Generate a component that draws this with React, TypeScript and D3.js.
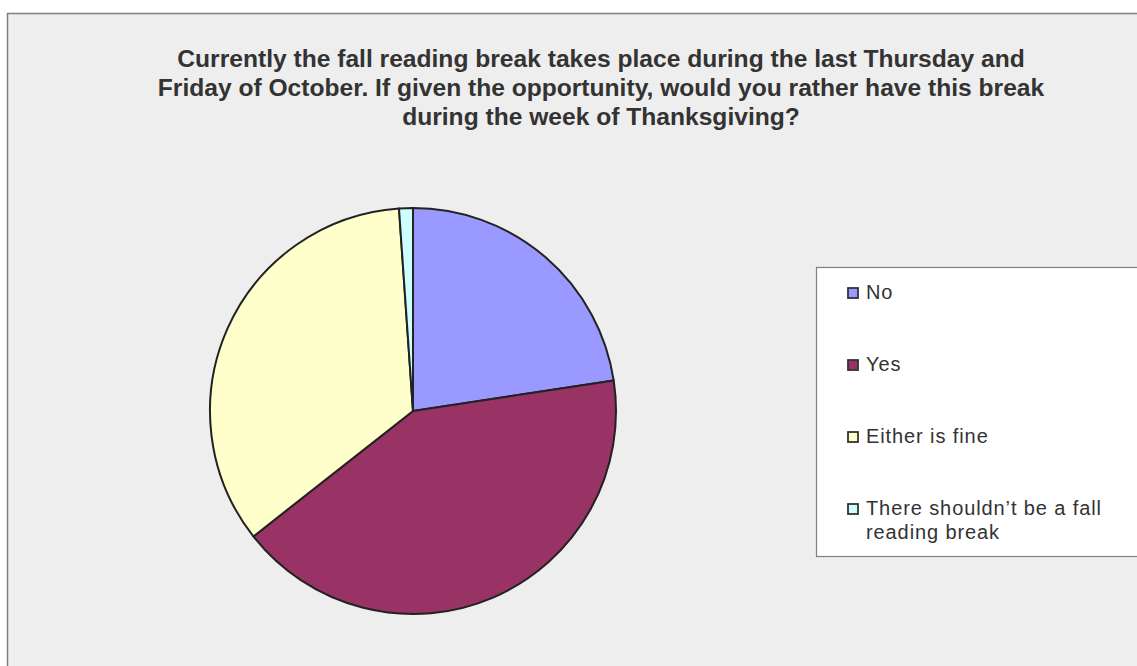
import React from "react";
import * as d3 from "d3";

const categories = ["No", "Yes", "Either is fine", "There shouldn\u2019t be a fall reading break"];
const values = [22.6, 41.8, 34.5, 1.1];
const colors = ["#9999FF", "#993366", "#FFFFCC", "#CCFFFF"];
const titleLines = [
  "Currently the fall reading break takes place during the last Thursday and",
  "Friday of October. If given the opportunity, would you rather have this break",
  "during the week of Thanksgiving?",
];
const legendLines = [["No"], ["Yes"], ["Either is fine"], ["There shouldn\u2019t be a fall", "reading break"]];

export default function App() {
  const W = 1137, H = 666;
  const cx = 413, cy = 411, r = 203;
  const pie = d3.pie<number>().sort(null).value((d) => d);
  const arcs = pie(values);
  const arc = d3.arc<d3.PieArcDatum<number>>().innerRadius(0).outerRadius(r);
  const font = "'Liberation Sans', Arial, sans-serif";
  const legendY = d3.scalePoint<number>().domain([0, 1, 2, 3]).range([292, 508]);
  return (
    <svg width={W} height={H} style={{ position: "absolute", left: 0, top: 0 }} fontFamily={font}>
      <rect x={0} y={0} width={W} height={H} fill="#ffffff" />
      <rect x={7.5} y={13.5} width={W + 20} height={H + 20} fill="#EEEEEE" stroke="#808080" strokeWidth={1.5} />
      {titleLines.map((t, i) => (
        <text key={i} x={601} y={67 + i * 29} textAnchor="middle" fontSize={24.6} fontWeight="bold" fill="#333">
          {t}
        </text>
      ))}
      <g transform={`translate(${cx},${cy})`}>
        {arcs.map((a, i) => (
          <path key={i} d={arc(a) || ""} fill={colors[i]} stroke="#222" strokeWidth={2} strokeLinejoin="round" />
        ))}
      </g>
      <rect x={816.5} y={267.5} width={W} height={289} fill="#ffffff" stroke="#808080" strokeWidth={1.2} />
      {categories.map((c, i) => {
        const y = legendY(i)!;
        return (
          <g key={c}>
            <rect x={848} y={y - 4} width={10} height={10} fill={colors[i]} stroke="#333" strokeWidth={1.8} />
            {legendLines[i].map((l, j) => (
              <text key={j} x={866} y={y + 7 + j * 24} fontSize={20} letterSpacing={0.9} fill="#333">
                {l}
              </text>
            ))}
          </g>
        );
      })}
    </svg>
  );
}
